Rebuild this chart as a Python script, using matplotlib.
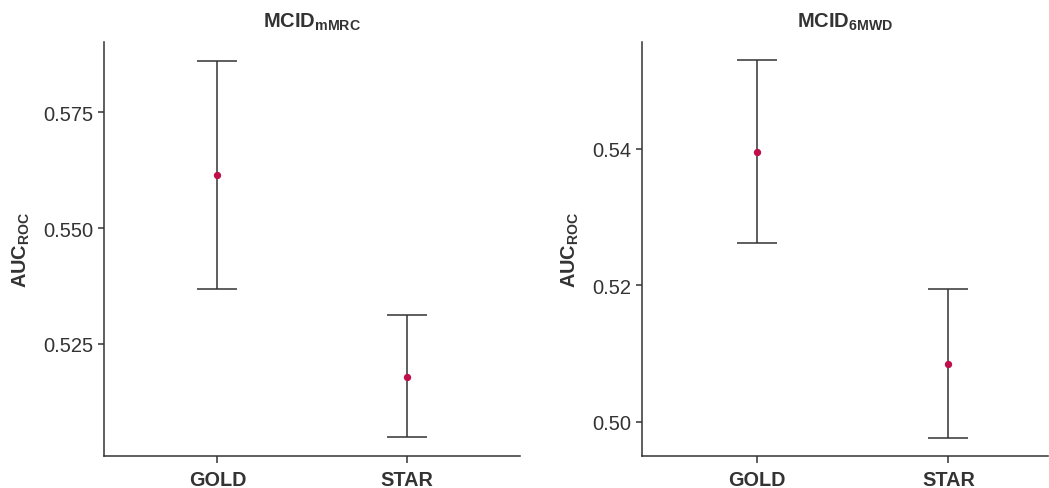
import matplotlib
matplotlib.use("Agg")
import matplotlib.pyplot as plt

plt.rcParams['font.family'] = ['Liberation Sans', 'DejaVu Sans']
plt.rcParams['mathtext.fontset'] = 'custom'
plt.rcParams['mathtext.rm'] = 'Liberation Sans'
plt.rcParams['mathtext.bf'] = 'Liberation Sans:bold'

groups = ['GOLD', 'STAR']

# MCID mMRC panel
mmrc_auc = [0.5615, 0.5179]
mmrc_low = [0.5369, 0.5048]
mmrc_high = [0.5860, 0.5313]

# MCID 6MWD panel
mwd_auc = [0.5395, 0.5084]
mwd_low = [0.5262, 0.4977]
mwd_high = [0.5529, 0.5194]

dark = '#333333'
dot = '#C0104A'

fig = plt.figure(figsize=(10.49, 4.89), dpi=100)
ax1 = fig.add_axes([104/1049, 32/489, 416/1049, 414/489])
ax2 = fig.add_axes([642/1049, 32/489, 406/1049, 414/489])


def panel(ax, auc, low, high, title, ylim, xlim, yticks, fmt):
    x = list(range(len(groups)))
    err = [[a - l for a, l in zip(auc, low)], [h - a for a, h in zip(auc, high)]]
    ax.errorbar(x, auc, yerr=err, fmt='none', ecolor=dark, elinewidth=1.1,
                capsize=14.5, capthick=1.1)
    ax.scatter(x, auc, s=28, color=dot, zorder=3, linewidths=0)
    ax.set_xlim(*xlim)
    ax.set_ylim(*ylim)
    ax.set_xticks(x)
    ax.set_xticklabels(groups, fontsize=14.3, fontweight='bold', color=dark)
    ax.set_yticks(yticks)
    ax.set_yticklabels([fmt.format(v) for v in yticks], fontsize=14.5, color=dark)
    ax.spines['top'].set_visible(False)
    ax.spines['right'].set_visible(False)
    for s in ['left', 'bottom']:
        ax.spines[s].set_color(dark)
        ax.spines[s].set_linewidth(1.1)
    ax.tick_params(axis='y', color=dark, length=4, width=1.1, pad=4)
    ax.tick_params(axis='x', color=dark, length=5, width=1.1, pad=5)
    ax.set_ylabel(r'$\mathbf{AUC}_{\mathbf{ROC}}$', fontsize=14.4, color=dark, labelpad=8)
    ax.set_title(title, fontsize=14.5, color=dark, pad=11)


panel(ax1, mmrc_auc, mmrc_low, mmrc_high, r'$\mathbf{MCID}_{\mathbf{mMRC}}$',
      (0.5008, 0.5902), (-0.6, 1.6), [0.525, 0.550, 0.575], '{:.3f}')
panel(ax2, mwd_auc, mwd_low, mwd_high, r'$\mathbf{MCID}_{\mathbf{6MWD}}$',
      (0.4950, 0.5556), (-0.6, 1.52), [0.50, 0.52, 0.54], '{:.2f}')

fig.savefig('out.png', dpi=100)
